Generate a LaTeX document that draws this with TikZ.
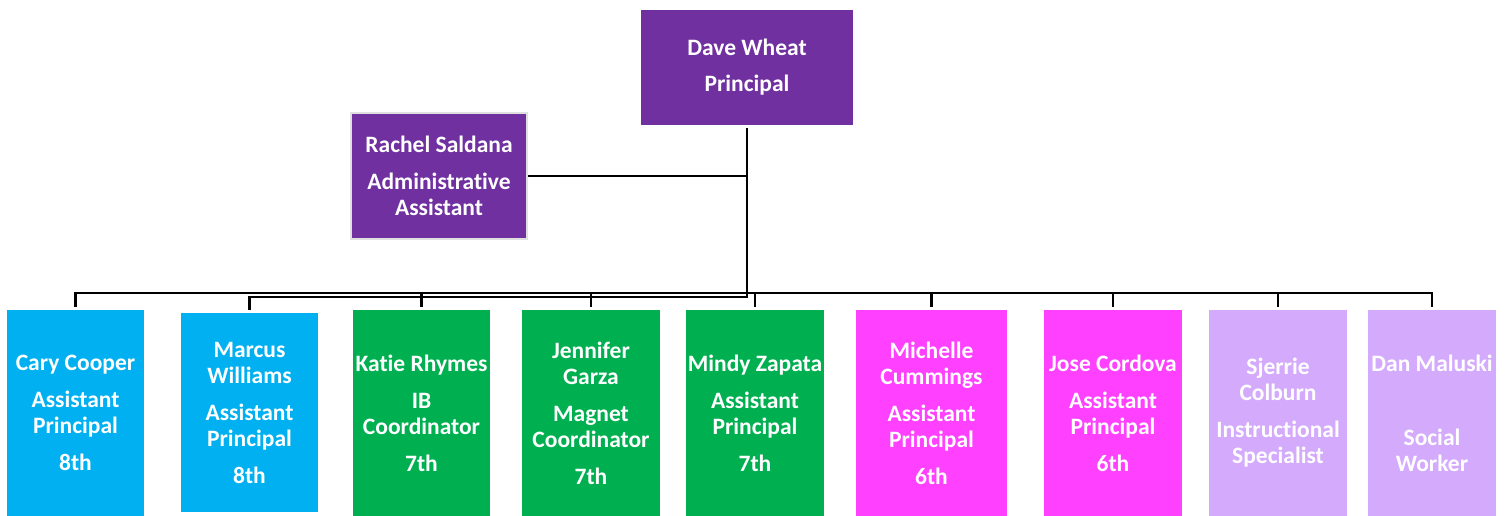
\documentclass[tikz,border=0pt]{standalone}
\usepackage{fontspec}
\setmainfont{Carlito}[Ligatures=CommonOff]
\usepackage{tikz}
\usetikzlibrary{positioning}
\definecolor{headpurple}{HTML}{7030A0}
\definecolor{eighthblue}{HTML}{00B0F0}
\definecolor{seventhgreen}{HTML}{00B050}
\definecolor{sixthpink}{HTML}{FF40FF}
\definecolor{supportlilac}{HTML}{D4AAFC}
\tikzset{staff/.style={rectangle,inner sep=0pt,text=white,align=center,
		font=\fontsize{23.5}{26}\selectfont\bfseries},
	 head/.style={staff,fill=headpurple},
	 grade/.style={staff,minimum width=138pt,minimum height=206pt},
	 link/.style={line width=2.8pt,line cap=rect}
	 }

\begin{document}
\begin{tikzpicture}[x=1pt,y=-1pt]
	\useasboundingbox (0,0) rectangle (1509,516);
	% top of the chart
	\node[head,minimum width=212pt,minimum height=115pt] (wheat) at (747,67.5) {Dave Wheat\\[10pt]Principal};
	\node[head,minimum width=176pt,minimum height=126pt,draw=black!12,line width=1.5pt] (saldana) at (439,176) {Rachel Saldana\\[11pt]Administrative\\Assistant};
	% grade teams
	\node[grade,fill=eighthblue,minimum width=137pt] (cooper) at (75.5,413) {Cary Cooper\\[11pt]Assistant\\Principal\\[11pt]8th};
	\node[grade,fill=eighthblue,minimum width=137pt,minimum height=199pt] (williams) at (249.5,412.5) {Marcus\\Williams\\[11pt]Assistant\\Principal\\[11pt]8th};
	\node[grade,fill=seventhgreen,minimum width=137pt] (rhymes) at (421.5,413) {Katie Rhymes\\[11pt]IB\\Coordinator\\[11pt]7th};
	\node[grade,fill=seventhgreen] (garza) at (591,413) {Jennifer\\Garza\\[11pt]Magnet\\Coordinator\\[11pt]7th};
	\node[grade,fill=seventhgreen] (zapata) at (755,413) {Mindy Zapata\\[11pt]Assistant\\Principal\\[11pt]7th};
	\node[grade,fill=sixthpink,minimum width=151pt] (cummings) at (931.5,413) {Michelle\\Cummings\\[11pt]Assistant\\Principal\\[11pt]6th};
	\node[grade,fill=sixthpink] (cordova) at (1113,413) {Jose Cordova\\[11pt]Assistant\\Principal\\[11pt]6th};
	\node[grade,fill=supportlilac] (colburn) at (1278,413) {Sjerrie\\Colburn\\[11pt]Instructional\\Specialist};
	\node[grade,fill=supportlilac,minimum width=128pt] (maluski) at (1432,413) {Dan Maluski\\[48pt]Social\\Worker};
	\coordinate (trunk) at (747,297);
	\coordinate (bus) at (747,293);
	\draw[link] ([yshift=-4pt]wheat.south) -- (trunk);
	\draw[link] ([xshift=2pt]saldana.east) -- (saldana.east -| wheat.south);
	\draw[link] ([yshift=4pt]cooper.north) |- (bus) -| ([yshift=4pt]maluski.north);
	\draw[link] ([yshift=4pt]williams.north) |- (trunk);
	\foreach \who in {rhymes,garza,zapata,cummings,cordova,colburn}
		\draw[link] ([yshift=4pt]\who.north) -- (\who.north |- bus);
\end{tikzpicture}
\end{document}
